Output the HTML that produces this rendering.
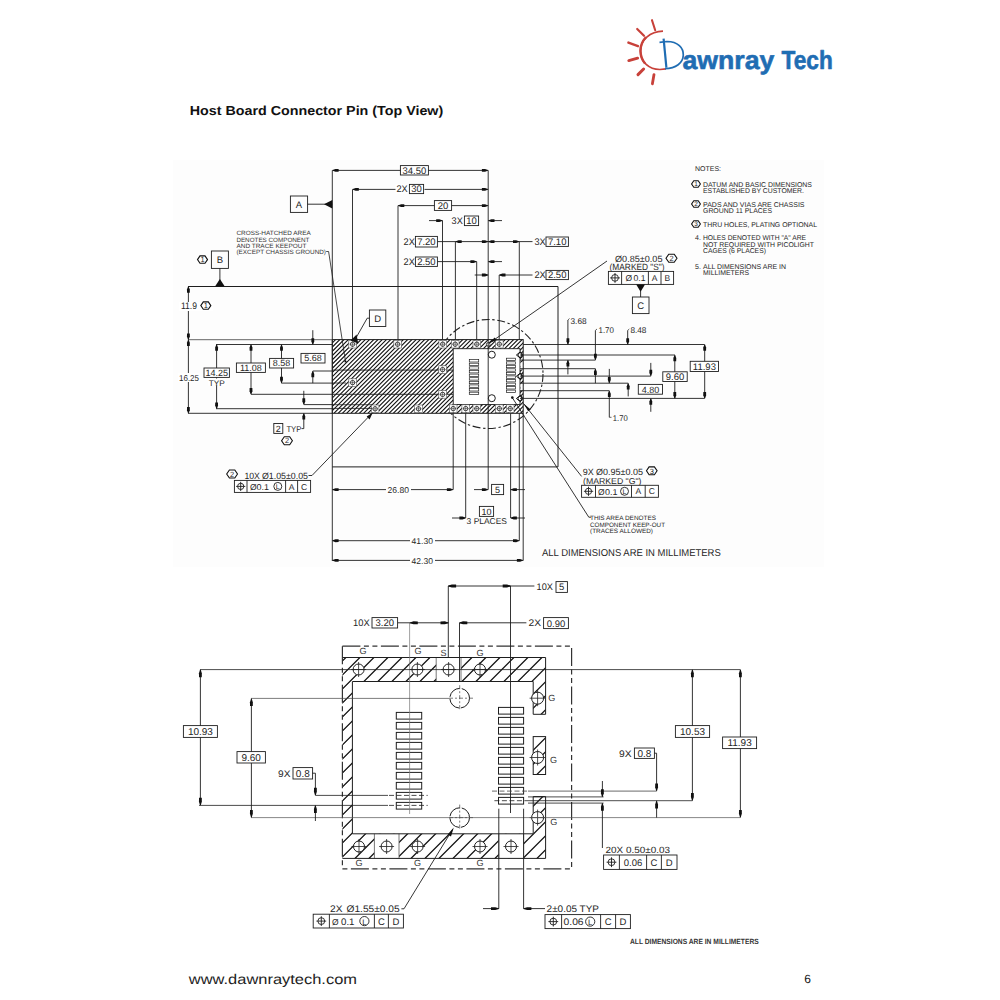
<!DOCTYPE html>
<html><head><meta charset="utf-8"><title>Host Board Connector Pin</title>
<style>
html,body{margin:0;padding:0;background:#fff;}
body{width:1000px;height:1000px;overflow:hidden;position:relative;font-family:"Liberation Sans", sans-serif;}
svg{position:absolute;left:0;top:0;}
text{font-family:"Liberation Sans", sans-serif;}
</style></head><body>
<svg width="1000" height="1000" viewBox="0 0 1000 1000" text-rendering="geometricPrecision">
<rect width="1000" height="1000" fill="#fff"/>
<rect x="173" y="160" width="651" height="407" fill="#fdfdfd"/>

<text x="189.8" y="115.2" font-size="13" text-anchor="start" fill="#111" font-weight="bold" textLength="253.4" lengthAdjust="spacingAndGlyphs" >Host Board Connector Pin (Top View)</text>
<text x="188.8" y="983.7" font-size="14" text-anchor="start" fill="#222" font-weight="normal" textLength="168.2" lengthAdjust="spacingAndGlyphs" >www.dawnraytech.com</text>
<text x="807.5" y="982.5" font-size="12" text-anchor="middle" fill="#111" font-weight="normal" >6</text>
<path d="M 663 31.2 C 650 31.5 640.3 40 640.4 51 C 640.6 62 649 69.6 660 69.5 L 666 68.9" fill="none" stroke="#c8413a" stroke-width="1.7"/>
<path d="M 646 37 C 642 41.5 640.4 46 640.5 51 C 640.6 56 642 60 645 63.5" fill="none" stroke="#c8413a" stroke-width="2.4"/>
<line x1="652" y1="20.2" x2="655.2" y2="30.2" stroke="#c8413a" stroke-width="2.1" stroke-linecap="round"/>
<line x1="637.2" y1="29" x2="644" y2="35.8" stroke="#c8413a" stroke-width="2.2" stroke-linecap="round"/>
<line x1="628.4" y1="42.6" x2="638" y2="46.2" stroke="#c8413a" stroke-width="2.4" stroke-linecap="round"/>
<line x1="628.8" y1="60.6" x2="637.6" y2="58.2" stroke="#c8413a" stroke-width="2.9" stroke-linecap="round"/>
<line x1="638" y1="74.6" x2="643.6" y2="69" stroke="#c8413a" stroke-width="3.0" stroke-linecap="round"/>
<line x1="652.4" y1="83.8" x2="654" y2="74.6" stroke="#c8413a" stroke-width="2.8" stroke-linecap="round"/>
<path d="M 663.6 38.6 L 666.4 67.6" stroke="#1f6db3" stroke-width="2.2" fill="none"/>
<path d="M 659.5 42.3 L 667 41.5 C 678 41.5 683.5 48 683.3 55 C 683 63 676 68.5 665 68.6" stroke="#1f6db3" stroke-width="1.7" fill="none"/>
<text x="682.4" y="68.9" font-size="26" font-weight="bold" fill="#1f6db3" stroke="#1f6db3" stroke-width="0.6" stroke-linejoin="round" textLength="92" lengthAdjust="spacingAndGlyphs">awnray</text>
<text x="781.6" y="68.9" font-size="26" font-weight="bold" fill="#1f6db3" stroke="#1f6db3" stroke-width="0.6" stroke-linejoin="round" textLength="51.2" lengthAdjust="spacingAndGlyphs">Tech</text>
<circle cx="488.5" cy="374.0" r="54.5" fill="none" stroke="#222" stroke-width="1.1" stroke-dasharray="8 2.6 2.4 2.6"/>
<clipPath id="cp1"><rect x="332.3" y="339.6" width="190.9" height="73.7"/></clipPath>
<rect x="332.3" y="339.6" width="190.9" height="73.7" fill="#fff"/>
<path clip-path="url(#cp1)" d="M251.38 415.30L329.08 337.60M255.62 415.30L333.32 337.60M259.86 415.30L337.56 337.60M264.10 415.30L341.80 337.60M268.34 415.30L346.04 337.60M272.58 415.30L350.28 337.60M276.82 415.30L354.52 337.60M281.06 415.30L358.76 337.60M285.30 415.30L363.00 337.60M289.54 415.30L367.24 337.60M293.78 415.30L371.48 337.60M298.02 415.30L375.72 337.60M302.26 415.30L379.96 337.60M306.50 415.30L384.20 337.60M310.74 415.30L388.44 337.60M314.98 415.30L392.68 337.60M319.22 415.30L396.92 337.60M323.46 415.30L401.16 337.60M327.70 415.30L405.40 337.60M331.94 415.30L409.64 337.60M336.18 415.30L413.88 337.60M340.42 415.30L418.12 337.60M344.66 415.30L422.36 337.60M348.90 415.30L426.60 337.60M353.14 415.30L430.84 337.60M357.38 415.30L435.08 337.60M361.62 415.30L439.32 337.60M365.86 415.30L443.56 337.60M370.10 415.30L447.80 337.60M374.34 415.30L452.04 337.60M378.58 415.30L456.28 337.60M382.82 415.30L460.52 337.60M387.06 415.30L464.76 337.60M391.30 415.30L469.00 337.60M395.54 415.30L473.24 337.60M399.78 415.30L477.48 337.60M404.02 415.30L481.72 337.60M408.26 415.30L485.96 337.60M412.50 415.30L490.20 337.60M416.74 415.30L494.44 337.60M420.98 415.30L498.68 337.60M425.22 415.30L502.92 337.60M429.46 415.30L507.16 337.60M433.70 415.30L511.40 337.60M437.94 415.30L515.64 337.60M442.18 415.30L519.88 337.60M446.42 415.30L524.12 337.60M450.66 415.30L528.36 337.60M454.90 415.30L532.60 337.60M459.14 415.30L536.84 337.60M463.38 415.30L541.08 337.60M467.62 415.30L545.32 337.60M471.86 415.30L549.56 337.60M476.10 415.30L553.80 337.60M480.34 415.30L558.04 337.60M484.58 415.30L562.28 337.60M488.82 415.30L566.52 337.60M493.06 415.30L570.76 337.60M497.30 415.30L575.00 337.60M501.54 415.30L579.24 337.60M505.78 415.30L583.48 337.60M510.02 415.30L587.72 337.60M514.26 415.30L591.96 337.60M518.50 415.30L596.20 337.60M522.74 415.30L600.44 337.60" stroke="#111" stroke-width="1.1" fill="none"/>
<rect x="453.2" y="348.7" width="66.8" height="55.8" fill="#fff" stroke="#1e1e1e" stroke-width="0.9" />
<rect x="520.5" y="362.5" width="2.7" height="7.0" fill="#fff"/>
<rect x="520.5" y="383.5" width="2.7" height="7.0" fill="#fff"/>
<rect x="332.3" y="339.6" width="190.9" height="73.7" fill="none" stroke="#1e1e1e" stroke-width="1.0" />
<line x1="332.3" y1="370.1" x2="453.2" y2="370.1" stroke="#1e1e1e" stroke-width="0.9" />
<line x1="332.3" y1="394.3" x2="453.2" y2="394.3" stroke="#1e1e1e" stroke-width="0.9" />
<rect x="348.8" y="340.4" width="7.6" height="7.6" fill="#fff" stroke="#555" stroke-width="0.6" />
<circle cx="352.6" cy="344.2" r="2.2" fill="none" stroke="#1e1e1e" stroke-width="0.8" />
<line x1="349.6" y1="344.2" x2="355.6" y2="344.2" stroke="#1e1e1e" stroke-width="0.5" />
<line x1="352.6" y1="341.2" x2="352.6" y2="347.2" stroke="#1e1e1e" stroke-width="0.5" />
<rect x="393.8" y="340.4" width="7.6" height="7.6" fill="#fff" stroke="#555" stroke-width="0.6" />
<circle cx="397.6" cy="344.2" r="2.2" fill="none" stroke="#1e1e1e" stroke-width="0.8" />
<line x1="394.6" y1="344.2" x2="400.6" y2="344.2" stroke="#1e1e1e" stroke-width="0.5" />
<line x1="397.6" y1="341.2" x2="397.6" y2="347.2" stroke="#1e1e1e" stroke-width="0.5" />
<rect x="438.9" y="340.4" width="7.6" height="7.6" fill="#fff" stroke="#555" stroke-width="0.6" />
<circle cx="442.7" cy="344.2" r="2.2" fill="none" stroke="#1e1e1e" stroke-width="0.8" />
<line x1="439.7" y1="344.2" x2="445.7" y2="344.2" stroke="#1e1e1e" stroke-width="0.5" />
<line x1="442.7" y1="341.2" x2="442.7" y2="347.2" stroke="#1e1e1e" stroke-width="0.5" />
<rect x="451.4" y="340.4" width="7.6" height="7.6" fill="#fff" stroke="#555" stroke-width="0.6" />
<circle cx="455.2" cy="344.2" r="2.2" fill="none" stroke="#1e1e1e" stroke-width="0.8" />
<line x1="452.2" y1="344.2" x2="458.2" y2="344.2" stroke="#1e1e1e" stroke-width="0.5" />
<line x1="455.2" y1="341.2" x2="455.2" y2="347.2" stroke="#1e1e1e" stroke-width="0.5" />
<rect x="473.0" y="340.4" width="7.6" height="7.6" fill="#fff" stroke="#555" stroke-width="0.6" />
<circle cx="476.8" cy="344.2" r="2.2" fill="none" stroke="#1e1e1e" stroke-width="0.8" />
<line x1="473.8" y1="344.2" x2="479.8" y2="344.2" stroke="#1e1e1e" stroke-width="0.5" />
<line x1="476.8" y1="341.2" x2="476.8" y2="347.2" stroke="#1e1e1e" stroke-width="0.5" />
<rect x="495.5" y="340.4" width="7.6" height="7.6" fill="#fff" stroke="#555" stroke-width="0.6" />
<circle cx="499.3" cy="344.2" r="2.2" fill="none" stroke="#1e1e1e" stroke-width="0.8" />
<line x1="496.3" y1="344.2" x2="502.3" y2="344.2" stroke="#1e1e1e" stroke-width="0.5" />
<line x1="499.3" y1="341.2" x2="499.3" y2="347.2" stroke="#1e1e1e" stroke-width="0.5" />
<rect x="438.8" y="365.8" width="7.6" height="7.6" fill="#fff" stroke="#555" stroke-width="0.6" />
<circle cx="442.6" cy="369.6" r="2.2" fill="none" stroke="#1e1e1e" stroke-width="0.8" />
<line x1="439.6" y1="369.6" x2="445.6" y2="369.6" stroke="#1e1e1e" stroke-width="0.5" />
<line x1="442.6" y1="366.6" x2="442.6" y2="372.6" stroke="#1e1e1e" stroke-width="0.5" />
<rect x="438.8" y="390.6" width="7.6" height="7.6" fill="#fff" stroke="#555" stroke-width="0.6" />
<circle cx="442.6" cy="394.4" r="2.2" fill="none" stroke="#1e1e1e" stroke-width="0.8" />
<line x1="439.6" y1="394.4" x2="445.6" y2="394.4" stroke="#1e1e1e" stroke-width="0.5" />
<line x1="442.6" y1="391.4" x2="442.6" y2="397.4" stroke="#1e1e1e" stroke-width="0.5" />
<rect x="348.8" y="378.8" width="7.6" height="7.6" fill="#fff" stroke="#555" stroke-width="0.6" />
<circle cx="352.6" cy="382.6" r="2.2" fill="none" stroke="#1e1e1e" stroke-width="0.8" />
<line x1="349.6" y1="382.6" x2="355.6" y2="382.6" stroke="#1e1e1e" stroke-width="0.5" />
<line x1="352.6" y1="379.6" x2="352.6" y2="385.6" stroke="#1e1e1e" stroke-width="0.5" />
<rect x="371.3" y="405.0" width="7.6" height="7.6" fill="#fff" stroke="#555" stroke-width="0.6" />
<circle cx="375.1" cy="408.8" r="2.2" fill="none" stroke="#1e1e1e" stroke-width="0.8" />
<line x1="372.1" y1="408.8" x2="378.1" y2="408.8" stroke="#1e1e1e" stroke-width="0.5" />
<line x1="375.1" y1="405.8" x2="375.1" y2="411.8" stroke="#1e1e1e" stroke-width="0.5" />
<rect x="414.7" y="405.0" width="7.6" height="7.6" fill="#fff" stroke="#555" stroke-width="0.6" />
<circle cx="418.5" cy="408.8" r="2.2" fill="none" stroke="#1e1e1e" stroke-width="0.8" />
<line x1="415.5" y1="408.8" x2="421.5" y2="408.8" stroke="#1e1e1e" stroke-width="0.5" />
<line x1="418.5" y1="405.8" x2="418.5" y2="411.8" stroke="#1e1e1e" stroke-width="0.5" />
<rect x="449.4" y="404.8" width="7.6" height="7.6" fill="#fff" stroke="#555" stroke-width="0.6" />
<circle cx="453.2" cy="408.6" r="2.2" fill="none" stroke="#1e1e1e" stroke-width="0.8" />
<line x1="450.2" y1="408.6" x2="456.2" y2="408.6" stroke="#1e1e1e" stroke-width="0.5" />
<line x1="453.2" y1="405.6" x2="453.2" y2="411.6" stroke="#1e1e1e" stroke-width="0.5" />
<rect x="461.9" y="404.8" width="7.6" height="7.6" fill="#fff" stroke="#555" stroke-width="0.6" />
<circle cx="465.7" cy="408.6" r="2.2" fill="none" stroke="#1e1e1e" stroke-width="0.8" />
<line x1="462.7" y1="408.6" x2="468.7" y2="408.6" stroke="#1e1e1e" stroke-width="0.5" />
<line x1="465.7" y1="405.6" x2="465.7" y2="411.6" stroke="#1e1e1e" stroke-width="0.5" />
<rect x="473.0" y="404.8" width="7.6" height="7.6" fill="#fff" stroke="#555" stroke-width="0.6" />
<circle cx="476.8" cy="408.6" r="2.2" fill="none" stroke="#1e1e1e" stroke-width="0.8" />
<line x1="473.8" y1="408.6" x2="479.8" y2="408.6" stroke="#1e1e1e" stroke-width="0.5" />
<line x1="476.8" y1="405.6" x2="476.8" y2="411.6" stroke="#1e1e1e" stroke-width="0.5" />
<rect x="495.5" y="404.8" width="7.6" height="7.6" fill="#fff" stroke="#555" stroke-width="0.6" />
<circle cx="499.3" cy="408.6" r="2.2" fill="none" stroke="#1e1e1e" stroke-width="0.8" />
<line x1="496.3" y1="408.6" x2="502.3" y2="408.6" stroke="#1e1e1e" stroke-width="0.5" />
<line x1="499.3" y1="405.6" x2="499.3" y2="411.6" stroke="#1e1e1e" stroke-width="0.5" />
<rect x="506.4" y="404.8" width="7.6" height="7.6" fill="#fff" stroke="#555" stroke-width="0.6" />
<circle cx="510.2" cy="408.6" r="2.2" fill="none" stroke="#1e1e1e" stroke-width="0.8" />
<line x1="507.2" y1="408.6" x2="513.2" y2="408.6" stroke="#1e1e1e" stroke-width="0.5" />
<line x1="510.2" y1="405.6" x2="510.2" y2="411.6" stroke="#1e1e1e" stroke-width="0.5" />
<circle cx="488.2" cy="344.4" r="1.8" fill="#fff" stroke="#1e1e1e" stroke-width="0.8" />
<circle cx="520.4" cy="355.0" r="2.3" fill="#fff" stroke="#1e1e1e" stroke-width="0.9" />
<polygon points="516.4,355.0 520.4,351.8 521.9,355.0 520.4,358.2" fill="none" stroke="#111" stroke-width="1.0"/>
<circle cx="520.4" cy="376.2" r="2.3" fill="#fff" stroke="#1e1e1e" stroke-width="0.9" />
<polygon points="516.4,376.2 520.4,373.0 521.9,376.2 520.4,379.4" fill="none" stroke="#111" stroke-width="1.0"/>
<circle cx="520.4" cy="398.5" r="2.3" fill="#fff" stroke="#1e1e1e" stroke-width="0.9" />
<polygon points="516.4,398.5 520.4,395.3 521.9,398.5 520.4,401.7" fill="none" stroke="#111" stroke-width="1.0"/>
<circle cx="491.8" cy="354.7" r="3.5" fill="#fff" stroke="#1e1e1e" stroke-width="1.0" />
<circle cx="491.8" cy="398.2" r="3.5" fill="#fff" stroke="#1e1e1e" stroke-width="1.0" />
<rect x="469.3" y="359.6" width="9.4" height="2.4" fill="none" stroke="#1e1e1e" stroke-width="0.7" />
<rect x="469.3" y="363.2" width="9.4" height="2.4" fill="none" stroke="#1e1e1e" stroke-width="0.7" />
<rect x="469.3" y="366.8" width="9.4" height="2.4" fill="none" stroke="#1e1e1e" stroke-width="0.7" />
<rect x="469.3" y="370.5" width="9.4" height="2.4" fill="none" stroke="#1e1e1e" stroke-width="0.7" />
<rect x="469.3" y="374.1" width="9.4" height="2.4" fill="none" stroke="#1e1e1e" stroke-width="0.7" />
<rect x="469.3" y="377.7" width="9.4" height="2.4" fill="none" stroke="#1e1e1e" stroke-width="0.7" />
<rect x="469.3" y="381.3" width="9.4" height="2.4" fill="none" stroke="#1e1e1e" stroke-width="0.7" />
<rect x="469.3" y="384.9" width="9.4" height="2.4" fill="none" stroke="#1e1e1e" stroke-width="0.7" />
<rect x="469.3" y="388.6" width="9.4" height="2.4" fill="none" stroke="#1e1e1e" stroke-width="0.7" />
<rect x="469.3" y="392.2" width="9.4" height="2.4" fill="none" stroke="#1e1e1e" stroke-width="0.7" />
<rect x="506.5" y="358.2" width="9.0" height="2.4" fill="none" stroke="#1e1e1e" stroke-width="0.7" />
<rect x="506.5" y="361.8" width="9.0" height="2.4" fill="none" stroke="#1e1e1e" stroke-width="0.7" />
<rect x="506.5" y="365.3" width="9.0" height="2.4" fill="none" stroke="#1e1e1e" stroke-width="0.7" />
<rect x="506.5" y="368.8" width="9.0" height="2.4" fill="none" stroke="#1e1e1e" stroke-width="0.7" />
<rect x="506.5" y="372.4" width="9.0" height="2.4" fill="none" stroke="#1e1e1e" stroke-width="0.7" />
<rect x="506.5" y="375.9" width="9.0" height="2.4" fill="none" stroke="#1e1e1e" stroke-width="0.7" />
<rect x="506.5" y="379.5" width="9.0" height="2.4" fill="none" stroke="#1e1e1e" stroke-width="0.7" />
<rect x="506.5" y="383.1" width="9.0" height="2.4" fill="none" stroke="#1e1e1e" stroke-width="0.7" />
<rect x="506.5" y="386.6" width="9.0" height="2.4" fill="none" stroke="#1e1e1e" stroke-width="0.7" />
<rect x="506.5" y="390.1" width="9.0" height="2.4" fill="none" stroke="#1e1e1e" stroke-width="0.7" />
<line x1="332.3" y1="404.7" x2="372.0" y2="404.7" stroke="#1e1e1e" stroke-width="0.8" />
<line x1="332.3" y1="408.4" x2="372.0" y2="408.4" stroke="#1e1e1e" stroke-width="0.8" />
<line x1="332.3" y1="383.0" x2="346.0" y2="383.0" stroke="#1e1e1e" stroke-width="0.8" />
<line x1="188.0" y1="286.5" x2="558.0" y2="286.5" stroke="#1e1e1e" stroke-width="1.1" />
<line x1="558.0" y1="286.5" x2="558.0" y2="466.9" stroke="#1e1e1e" stroke-width="1.0" />
<line x1="332.3" y1="466.9" x2="558.0" y2="466.9" stroke="#1e1e1e" stroke-width="1.0" />
<line x1="332.3" y1="170.4" x2="332.3" y2="561.0" stroke="#1e1e1e" stroke-width="0.9" />
<line x1="188.0" y1="339.7" x2="332.3" y2="339.7" stroke="#555" stroke-width="0.9" />
<line x1="216.0" y1="344.5" x2="332.3" y2="344.5" stroke="#1e1e1e" stroke-width="0.9" />
<line x1="281.4" y1="383.1" x2="332.3" y2="383.1" stroke="#1e1e1e" stroke-width="0.9" />
<line x1="251.0" y1="394.3" x2="332.3" y2="394.3" stroke="#1e1e1e" stroke-width="0.9" />
<line x1="303.8" y1="404.6" x2="332.3" y2="404.6" stroke="#1e1e1e" stroke-width="0.9" />
<line x1="216.0" y1="408.7" x2="332.3" y2="408.7" stroke="#1e1e1e" stroke-width="0.9" />
<line x1="188.0" y1="413.3" x2="332.3" y2="413.3" stroke="#1e1e1e" stroke-width="0.9" />
<line x1="312.8" y1="371.0" x2="332.3" y2="371.0" stroke="#1e1e1e" stroke-width="0.9" />
<line x1="352.5" y1="189.4" x2="352.5" y2="339.6" stroke="#1e1e1e" stroke-width="0.9" />
<line x1="398.0" y1="205.6" x2="398.0" y2="339.6" stroke="#1e1e1e" stroke-width="0.9" />
<line x1="442.5" y1="220.4" x2="442.5" y2="339.6" stroke="#1e1e1e" stroke-width="0.9" />
<line x1="455.4" y1="241.6" x2="455.4" y2="339.6" stroke="#1e1e1e" stroke-width="0.9" />
<line x1="476.7" y1="261.6" x2="476.7" y2="339.6" stroke="#1e1e1e" stroke-width="0.9" />
<line x1="488.2" y1="170.4" x2="488.2" y2="489.6" stroke="#1e1e1e" stroke-width="0.9" />
<line x1="499.2" y1="275.0" x2="499.2" y2="339.6" stroke="#1e1e1e" stroke-width="0.9" />
<line x1="519.3" y1="241.6" x2="519.3" y2="339.6" stroke="#1e1e1e" stroke-width="0.9" />
<line x1="332.3" y1="170.4" x2="488.2" y2="170.4" stroke="#1e1e1e" stroke-width="0.9" />
<polygon points="332.80,170.00 335.41,168.95 338.60,169.02 338.60,171.78 335.41,171.85 332.80,170.80" fill="#111"/>
<polygon points="487.70,170.00 485.09,168.95 481.90,169.02 481.90,171.78 485.09,171.85 487.70,170.80" fill="#111"/>
<rect x="400.4" y="165.6" width="28.0" height="9.4" fill="#fff" stroke="#1e1e1e" stroke-width="0.9" />
<text x="414.4" y="173.7" font-size="9.5" text-anchor="middle" fill="#262626" font-weight="normal" >34.50</text>
<line x1="352.5" y1="189.4" x2="488.2" y2="189.4" stroke="#1e1e1e" stroke-width="0.9" />
<polygon points="353.00,189.00 355.61,187.95 358.80,188.02 358.80,190.78 355.61,190.85 353.00,189.80" fill="#111"/>
<polygon points="487.70,189.00 485.09,187.95 481.90,188.02 481.90,190.78 485.09,190.85 487.70,189.80" fill="#111"/>
<rect x="395.5" y="184" width="29" height="10" fill="#fff"/>
<text x="396.4" y="191.8" font-size="9.5" text-anchor="start" fill="#262626" font-weight="normal" textLength="11.2" lengthAdjust="spacingAndGlyphs" >2X</text>
<rect x="409.4" y="184.4" width="14.2" height="9.2" fill="#fff" stroke="#1e1e1e" stroke-width="0.9" />
<text x="416.5" y="192.4" font-size="9.5" text-anchor="middle" fill="#262626" font-weight="normal" >30</text>
<line x1="398.0" y1="205.6" x2="488.2" y2="205.6" stroke="#1e1e1e" stroke-width="0.9" />
<polygon points="398.50,205.20 401.11,204.15 404.30,204.22 404.30,206.98 401.11,207.05 398.50,206.00" fill="#111"/>
<polygon points="487.70,205.20 485.09,204.15 481.90,204.22 481.90,206.98 485.09,207.05 487.70,206.00" fill="#111"/>
<rect x="434.4" y="200.6" width="17.2" height="9.8" fill="#fff" stroke="#1e1e1e" stroke-width="0.9" />
<text x="443.0" y="208.9" font-size="9.5" text-anchor="middle" fill="#262626" font-weight="normal" >20</text>
<line x1="429.0" y1="220.6" x2="442.5" y2="220.6" stroke="#1e1e1e" stroke-width="0.9" />
<polygon points="442.00,220.20 439.39,219.15 436.20,219.22 436.20,221.98 439.39,222.05 442.00,221.00" fill="#111"/>
<line x1="488.2" y1="220.6" x2="502.0" y2="220.6" stroke="#1e1e1e" stroke-width="0.9" />
<polygon points="488.70,220.20 491.31,219.15 494.50,219.22 494.50,221.98 491.31,222.05 488.70,221.00" fill="#111"/>
<text x="451.6" y="223.9" font-size="9.5" text-anchor="start" fill="#262626" font-weight="normal" textLength="11.2" lengthAdjust="spacingAndGlyphs" >3X</text>
<rect x="464.4" y="216.0" width="14.2" height="9.6" fill="#fff" stroke="#1e1e1e" stroke-width="0.9" />
<text x="471.5" y="224.2" font-size="9.5" text-anchor="middle" fill="#262626" font-weight="normal" >10</text>
<line x1="437.4" y1="241.6" x2="532.5" y2="241.6" stroke="#1e1e1e" stroke-width="0.9" />
<polygon points="455.90,241.20 458.51,240.15 461.70,240.22 461.70,242.98 458.51,243.05 455.90,242.00" fill="#111"/>
<polygon points="487.70,241.20 485.09,240.15 481.90,240.22 481.90,242.98 485.09,243.05 487.70,242.00" fill="#111"/>
<polygon points="488.70,241.20 491.31,240.15 494.50,240.22 494.50,242.98 491.31,243.05 488.70,242.00" fill="#111"/>
<polygon points="518.80,241.20 516.19,240.15 513.00,240.22 513.00,242.98 516.19,243.05 518.80,242.00" fill="#111"/>
<text x="403.6" y="245.0" font-size="9.5" text-anchor="start" fill="#262626" font-weight="normal" textLength="11.2" lengthAdjust="spacingAndGlyphs" >2X</text>
<rect x="415.4" y="236.4" width="22.0" height="10.6" fill="#fff" stroke="#1e1e1e" stroke-width="0.9" />
<text x="426.4" y="245.1" font-size="9.5" text-anchor="middle" fill="#262626" font-weight="normal" >7.20</text>
<text x="534.4" y="245.0" font-size="9.5" text-anchor="start" fill="#262626" font-weight="normal" textLength="11.2" lengthAdjust="spacingAndGlyphs" >3X</text>
<rect x="546.0" y="237.0" width="22.4" height="9.4" fill="#fff" stroke="#1e1e1e" stroke-width="0.9" />
<text x="557.2" y="245.1" font-size="9.5" text-anchor="middle" fill="#262626" font-weight="normal" >7.10</text>
<line x1="437.4" y1="261.6" x2="476.7" y2="261.6" stroke="#1e1e1e" stroke-width="0.9" />
<polygon points="476.20,261.20 473.59,260.15 470.40,260.22 470.40,262.98 473.59,263.05 476.20,262.00" fill="#111"/>
<line x1="488.2" y1="261.6" x2="502.0" y2="261.6" stroke="#1e1e1e" stroke-width="0.9" />
<polygon points="488.70,261.20 491.31,260.15 494.50,260.22 494.50,262.98 491.31,263.05 488.70,262.00" fill="#111"/>
<text x="403.6" y="265.0" font-size="9.5" text-anchor="start" fill="#262626" font-weight="normal" textLength="11.2" lengthAdjust="spacingAndGlyphs" >2X</text>
<rect x="415.4" y="257.0" width="22.0" height="9.4" fill="#fff" stroke="#1e1e1e" stroke-width="0.9" />
<text x="426.4" y="265.1" font-size="9.5" text-anchor="middle" fill="#262626" font-weight="normal" >2.50</text>
<line x1="474.7" y1="275.0" x2="488.2" y2="275.0" stroke="#1e1e1e" stroke-width="0.9" />
<polygon points="487.70,274.60 485.09,273.55 481.90,273.62 481.90,276.38 485.09,276.45 487.70,275.40" fill="#111"/>
<line x1="499.2" y1="275.0" x2="532.5" y2="275.0" stroke="#1e1e1e" stroke-width="0.9" />
<polygon points="499.70,274.60 502.31,273.55 505.50,273.62 505.50,276.38 502.31,276.45 499.70,275.40" fill="#111"/>
<text x="534.4" y="278.4" font-size="9.5" text-anchor="start" fill="#262626" font-weight="normal" textLength="11.2" lengthAdjust="spacingAndGlyphs" >2X</text>
<rect x="546.0" y="270.4" width="22.4" height="9.2" fill="#fff" stroke="#1e1e1e" stroke-width="0.9" />
<text x="557.2" y="278.4" font-size="9.5" text-anchor="middle" fill="#262626" font-weight="normal" >2.50</text>
<rect x="290.4" y="196.0" width="17.2" height="16.4" fill="none" stroke="#1e1e1e" stroke-width="0.9" />
<text x="299.0" y="207.8" font-size="9.5" text-anchor="middle" fill="#262626" font-weight="normal" >A</text>
<line x1="307.6" y1="204.2" x2="332.3" y2="204.2" stroke="#1e1e1e" stroke-width="0.9" />
<polygon points="332.3,200.0 332.3,208.4 324.0,204.2" fill="#111"/>
<rect x="211.4" y="251.0" width="17.0" height="17.4" fill="none" stroke="#1e1e1e" stroke-width="0.9" />
<text x="219.9" y="263.2" font-size="9.5" text-anchor="middle" fill="#262626" font-weight="normal" >B</text>
<line x1="219.9" y1="268.4" x2="219.9" y2="282.0" stroke="#1e1e1e" stroke-width="0.9" />
<polygon points="215.0,286.5 224.8,286.5 219.9,279.0" fill="#111"/>
<polygon points="207.5,259.6 205.0,263.3 200.0,263.3 197.5,259.6 200.0,255.9 205.0,255.9" fill="#fff" stroke="#111" stroke-width="1.1"/>
<text x="202.5" y="262.3" font-size="7.5" text-anchor="middle" fill="#262626" font-weight="normal" >1</text>
<line x1="188.4" y1="286.5" x2="188.4" y2="413.3" stroke="#1e1e1e" stroke-width="0.9" />
<polygon points="188.00,287.00 186.95,289.61 187.02,292.80 189.78,292.80 189.85,289.61 188.80,287.00" fill="#111"/>
<polygon points="188.00,339.20 186.95,336.59 187.02,333.40 189.78,333.40 189.85,336.59 188.80,339.20" fill="#111"/>
<polygon points="188.00,340.20 186.95,342.81 187.02,346.00 189.78,346.00 189.85,342.81 188.80,340.20" fill="#111"/>
<polygon points="188.00,412.80 186.95,410.19 187.02,407.00 189.78,407.00 189.85,410.19 188.80,412.80" fill="#111"/>
<rect x="179" y="302" width="34" height="9" fill="#fff"/>
<text x="181.0" y="309.4" font-size="9.6" text-anchor="start" fill="#262626" font-weight="normal" textLength="16.0" lengthAdjust="spacingAndGlyphs" >11.9</text>
<polygon points="210.8,305.6 208.3,309.3 203.3,309.3 200.8,305.6 203.3,301.9 208.3,301.9" fill="#fff" stroke="#111" stroke-width="1.1"/>
<text x="205.8" y="308.3" font-size="7.5" text-anchor="middle" fill="#262626" font-weight="normal" >1</text>
<rect x="178" y="373" width="22" height="9" fill="#fff"/>
<text x="179.0" y="380.6" font-size="8.5" text-anchor="start" fill="#262626" font-weight="normal" textLength="20.0" lengthAdjust="spacingAndGlyphs" >16.25</text>
<line x1="216.6" y1="344.5" x2="216.6" y2="408.7" stroke="#1e1e1e" stroke-width="0.9" />
<polygon points="216.20,345.00 215.15,347.61 215.22,350.80 217.98,350.80 218.05,347.61 217.00,345.00" fill="#111"/>
<polygon points="216.20,408.20 215.15,405.59 215.22,402.40 217.98,402.40 218.05,405.59 217.00,408.20" fill="#111"/>
<rect x="204.0" y="368.0" width="25.4" height="9.4" fill="#fff" stroke="#1e1e1e" stroke-width="0.9" />
<text x="216.7" y="375.9" font-size="9" text-anchor="middle" fill="#262626" font-weight="normal" >14.25</text>
<rect x="208" y="378.5" width="18" height="7" fill="#fff"/>
<text x="216.8" y="385.6" font-size="8" text-anchor="middle" fill="#262626" font-weight="normal" textLength="16.0" lengthAdjust="spacingAndGlyphs" >TYP</text>
<line x1="251.0" y1="344.5" x2="251.0" y2="394.3" stroke="#1e1e1e" stroke-width="0.9" />
<polygon points="250.60,345.00 249.55,347.61 249.62,350.80 252.38,350.80 252.45,347.61 251.40,345.00" fill="#111"/>
<polygon points="250.60,393.80 249.55,391.19 249.62,388.00 252.38,388.00 252.45,391.19 251.40,393.80" fill="#111"/>
<rect x="236.4" y="363.0" width="29.0" height="9.4" fill="#fff" stroke="#1e1e1e" stroke-width="0.9" />
<text x="250.9" y="370.9" font-size="9" text-anchor="middle" fill="#262626" font-weight="normal" >11.08</text>
<line x1="281.5" y1="344.5" x2="281.5" y2="383.1" stroke="#1e1e1e" stroke-width="0.9" />
<polygon points="281.10,345.00 280.05,347.61 280.12,350.80 282.88,350.80 282.95,347.61 281.90,345.00" fill="#111"/>
<polygon points="281.10,382.60 280.05,379.99 280.12,376.80 282.88,376.80 282.95,379.99 281.90,382.60" fill="#111"/>
<rect x="269.6" y="358.4" width="24.0" height="9.6" fill="#fff" stroke="#1e1e1e" stroke-width="0.9" />
<text x="281.6" y="366.4" font-size="9" text-anchor="middle" fill="#262626" font-weight="normal" >8.58</text>
<rect x="301.0" y="353.4" width="24.0" height="9.6" fill="#fff" stroke="#1e1e1e" stroke-width="0.9" />
<text x="313.0" y="361.4" font-size="9" text-anchor="middle" fill="#262626" font-weight="normal" >5.68</text>
<line x1="312.8" y1="330.2" x2="312.8" y2="344.5" stroke="#1e1e1e" stroke-width="0.9" />
<polygon points="312.40,344.00 311.35,341.39 311.42,338.20 314.18,338.20 314.25,341.39 313.20,344.00" fill="#111"/>
<line x1="312.8" y1="371.0" x2="312.8" y2="383.1" stroke="#1e1e1e" stroke-width="0.9" />
<polygon points="312.40,371.50 311.35,374.11 311.42,377.30 314.18,377.30 314.25,374.11 313.20,371.50" fill="#111"/>
<line x1="303.8" y1="390.8" x2="303.8" y2="404.6" stroke="#1e1e1e" stroke-width="0.9" />
<polygon points="303.40,404.10 302.35,401.49 302.42,398.30 305.18,398.30 305.25,401.49 304.20,404.10" fill="#111"/>
<line x1="303.8" y1="413.3" x2="303.8" y2="428.6" stroke="#1e1e1e" stroke-width="0.9" />
<polygon points="303.40,413.80 302.35,416.41 302.42,419.60 305.18,419.60 305.25,416.41 304.20,413.80" fill="#111"/>
<line x1="301.5" y1="428.6" x2="303.8" y2="428.6" stroke="#1e1e1e" stroke-width="0.9" />
<rect x="273.8" y="423.5" width="9.0" height="9.9" fill="none" stroke="#1e1e1e" stroke-width="0.9" />
<text x="278.3" y="431.7" font-size="9" text-anchor="middle" fill="#262626" font-weight="normal" >2</text>
<text x="286.4" y="432.0" font-size="8.5" text-anchor="start" fill="#262626" font-weight="normal" textLength="15.0" lengthAdjust="spacingAndGlyphs" >TYP</text>
<polygon points="292.4,440.7 289.7,444.7 284.3,444.7 281.6,440.7 284.3,436.7 289.7,436.7" fill="#fff" stroke="#111" stroke-width="1.1"/>
<text x="287.0" y="443.4" font-size="7.5" text-anchor="middle" fill="#262626" font-weight="normal" >2</text>
<text x="236.4" y="235.2" font-size="6.2" text-anchor="start" fill="#333" font-weight="normal" textLength="74.4" lengthAdjust="spacingAndGlyphs" >CROSS-HATCHED AREA</text>
<text x="236.4" y="241.5" font-size="6.2" text-anchor="start" fill="#333" font-weight="normal" textLength="73.0" lengthAdjust="spacingAndGlyphs" >DENOTES COMPONENT</text>
<text x="236.4" y="247.8" font-size="6.2" text-anchor="start" fill="#333" font-weight="normal" textLength="70.0" lengthAdjust="spacingAndGlyphs" >AND TRACE KEEPOUT</text>
<text x="236.4" y="254.1" font-size="6.2" text-anchor="start" fill="#333" font-weight="normal" textLength="89.6" lengthAdjust="spacingAndGlyphs" >(EXCEPT CHASSIS GROUND)</text>
<polyline points="326.2,251.5 328.6,251.5 345.5,361.5" fill="none" stroke="#1e1e1e" stroke-width="0.8" />
<circle cx="345.5" cy="361.5" r="1.1" fill="#111"/>
<rect x="369.4" y="310.0" width="16.4" height="16.5" fill="none" stroke="#1e1e1e" stroke-width="0.9" />
<text x="377.6" y="321.6" font-size="9.5" text-anchor="middle" fill="#262626" font-weight="normal" >D</text>
<polyline points="369.4,318.2 367.2,318.2 356.5,337.0" fill="none" stroke="#1e1e1e" stroke-width="0.9" />
<polygon points="350.6,340.4 356.6,334.6 358.2,343.4" fill="#111"/>
<polygon points="237.5,474.0 234.8,478.0 229.4,478.0 226.7,474.0 229.4,470.0 234.8,470.0" fill="#fff" stroke="#111" stroke-width="1.1"/>
<text x="232.1" y="476.7" font-size="7.5" text-anchor="middle" fill="#262626" font-weight="normal" >2</text>
<text x="244.4" y="479.1" font-size="9" text-anchor="start" fill="#262626" font-weight="normal" textLength="15.5" lengthAdjust="spacingAndGlyphs" >10X</text>
<text x="262.0" y="479.1" font-size="9" text-anchor="start" fill="#262626" font-weight="normal" textLength="46.0" lengthAdjust="spacingAndGlyphs" >&#216;1.05&#177;0.05</text>
<polyline points="308.5,475.5 312.0,475.5 371.5,413.8" fill="none" stroke="#1e1e1e" stroke-width="0.9" />
<polygon points="372.8,412.4 366.7,416.6 369.6,419.4" fill="#111"/>
<rect x="234.4" y="480.4" width="76.2" height="12.0" fill="#fff" stroke="#1e1e1e" stroke-width="0.9" />
<line x1="247.0" y1="480.4" x2="247.0" y2="492.4" stroke="#1e1e1e" stroke-width="0.9" />
<line x1="285.6" y1="480.4" x2="285.6" y2="492.4" stroke="#1e1e1e" stroke-width="0.9" />
<line x1="297.6" y1="480.4" x2="297.6" y2="492.4" stroke="#1e1e1e" stroke-width="0.9" />
<circle cx="240.7" cy="486.4" r="3.12" fill="none" stroke="#1e1e1e" stroke-width="0.9"/>
<line x1="236.1" y1="486.4" x2="245.3" y2="486.4" stroke="#1e1e1e" stroke-width="0.9" />
<line x1="240.7" y1="481.8" x2="240.7" y2="491.0" stroke="#1e1e1e" stroke-width="0.9" />
<text x="291.6" y="489.5" font-size="8.5" text-anchor="middle" fill="#262626">A</text>
<text x="304.1" y="489.5" font-size="8.5" text-anchor="middle" fill="#262626">C</text>
<text x="250.0" y="489.5" font-size="8.5" text-anchor="start" fill="#262626" font-weight="normal" >&#216;</text>
<text x="256.5" y="489.5" font-size="8.5" text-anchor="start" fill="#262626" font-weight="normal" textLength="12.5" lengthAdjust="spacingAndGlyphs" >0.1</text>
<circle cx="277.8" cy="486.4" r="4.0" fill="none" stroke="#1e1e1e" stroke-width="0.9" />
<text x="277.8" y="489.4" font-size="7" text-anchor="middle" fill="#262626" font-weight="normal" >L</text>
<line x1="332.3" y1="489.6" x2="453.2" y2="489.6" stroke="#1e1e1e" stroke-width="0.9" />
<polygon points="332.80,489.20 335.41,488.15 338.60,488.22 338.60,490.98 335.41,491.05 332.80,490.00" fill="#111"/>
<polygon points="452.70,489.20 450.09,488.15 446.90,488.22 446.90,490.98 450.09,491.05 452.70,490.00" fill="#111"/>
<rect x="386" y="485" width="25" height="9" fill="#fff"/>
<text x="387.6" y="492.8" font-size="8.5" text-anchor="start" fill="#262626" font-weight="normal" textLength="21.4" lengthAdjust="spacingAndGlyphs" >26.80</text>
<line x1="453.2" y1="413.3" x2="453.2" y2="489.6" stroke="#1e1e1e" stroke-width="0.9" />
<line x1="465.7" y1="413.3" x2="465.7" y2="518.0" stroke="#1e1e1e" stroke-width="0.9" />
<line x1="510.6" y1="413.3" x2="510.6" y2="518.0" stroke="#1e1e1e" stroke-width="0.9" />
<line x1="519.3" y1="413.3" x2="519.3" y2="540.8" stroke="#1e1e1e" stroke-width="0.9" />
<line x1="523.2" y1="413.3" x2="523.2" y2="560.6" stroke="#1e1e1e" stroke-width="0.9" />
<line x1="474.0" y1="489.6" x2="488.2" y2="489.6" stroke="#1e1e1e" stroke-width="0.9" />
<polygon points="487.70,489.20 485.09,488.15 481.90,488.22 481.90,490.98 485.09,491.05 487.70,490.00" fill="#111"/>
<line x1="510.6" y1="489.6" x2="525.0" y2="489.6" stroke="#1e1e1e" stroke-width="0.9" />
<polygon points="511.10,489.20 513.71,488.15 516.90,488.22 516.90,490.98 513.71,491.05 511.10,490.00" fill="#111"/>
<rect x="491.6" y="484.4" width="12.0" height="10.2" fill="#fff" stroke="#1e1e1e" stroke-width="0.9" />
<text x="497.6" y="492.7" font-size="9" text-anchor="middle" fill="#262626" font-weight="normal" >5</text>
<line x1="452.0" y1="518.0" x2="465.7" y2="518.0" stroke="#1e1e1e" stroke-width="0.9" />
<polygon points="465.20,517.60 462.59,516.55 459.40,516.62 459.40,519.38 462.59,519.45 465.20,518.40" fill="#111"/>
<line x1="510.6" y1="518.0" x2="525.0" y2="518.0" stroke="#1e1e1e" stroke-width="0.9" />
<polygon points="511.10,517.60 513.71,516.55 516.90,516.62 516.90,519.38 513.71,519.45 511.10,518.40" fill="#111"/>
<rect x="479.4" y="506.4" width="14.2" height="10.0" fill="#fff" stroke="#1e1e1e" stroke-width="0.9" />
<text x="486.5" y="514.6" font-size="9" text-anchor="middle" fill="#262626" font-weight="normal" >10</text>
<text x="466.6" y="524.4" font-size="8.5" text-anchor="start" fill="#262626" font-weight="normal" textLength="40.4" lengthAdjust="spacingAndGlyphs" >3 PLACES</text>
<line x1="332.3" y1="540.7" x2="519.3" y2="540.7" stroke="#1e1e1e" stroke-width="0.9" />
<polygon points="332.80,540.30 335.41,539.25 338.60,539.32 338.60,542.08 335.41,542.15 332.80,541.10" fill="#111"/>
<polygon points="518.80,540.30 516.19,539.25 513.00,539.32 513.00,542.08 516.19,542.15 518.80,541.10" fill="#111"/>
<rect x="410" y="536" width="25" height="9" fill="#fff"/>
<text x="411.6" y="544.0" font-size="8.5" text-anchor="start" fill="#262626" font-weight="normal" textLength="21.4" lengthAdjust="spacingAndGlyphs" >41.30</text>
<line x1="332.3" y1="560.4" x2="523.2" y2="560.4" stroke="#1e1e1e" stroke-width="0.9" />
<polygon points="332.80,560.00 335.41,558.95 338.60,559.02 338.60,561.78 335.41,561.85 332.80,560.80" fill="#111"/>
<polygon points="522.70,560.00 520.09,558.95 516.90,559.02 516.90,561.78 520.09,561.85 522.70,560.80" fill="#111"/>
<rect x="410" y="556" width="25" height="9" fill="#fff"/>
<text x="411.6" y="563.8" font-size="8.5" text-anchor="start" fill="#262626" font-weight="normal" textLength="21.4" lengthAdjust="spacingAndGlyphs" >42.30</text>
<line x1="523.2" y1="344.5" x2="704.7" y2="344.5" stroke="#1e1e1e" stroke-width="0.9" />
<line x1="520.0" y1="355.0" x2="675.0" y2="355.0" stroke="#1e1e1e" stroke-width="0.9" />
<line x1="520.0" y1="360.1" x2="595.4" y2="360.1" stroke="#1e1e1e" stroke-width="0.9" />
<line x1="520.0" y1="368.7" x2="595.4" y2="368.7" stroke="#1e1e1e" stroke-width="0.9" />
<line x1="520.0" y1="376.1" x2="650.8" y2="376.1" stroke="#1e1e1e" stroke-width="0.9" />
<line x1="520.0" y1="383.2" x2="628.2" y2="383.2" stroke="#1e1e1e" stroke-width="0.9" />
<line x1="520.0" y1="390.7" x2="609.3" y2="390.7" stroke="#1e1e1e" stroke-width="0.9" />
<line x1="520.0" y1="398.4" x2="704.7" y2="398.4" stroke="#1e1e1e" stroke-width="0.9" />
<line x1="567.9" y1="320.0" x2="567.9" y2="344.5" stroke="#1e1e1e" stroke-width="0.9" />
<polygon points="567.50,344.00 566.45,341.39 566.52,338.20 569.28,338.20 569.35,341.39 568.30,344.00" fill="#111"/>
<line x1="567.9" y1="320.0" x2="569.5" y2="318.5" stroke="#1e1e1e" stroke-width="0.7" />
<line x1="567.9" y1="360.1" x2="567.9" y2="374.4" stroke="#1e1e1e" stroke-width="0.9" />
<polygon points="567.50,360.60 566.45,363.21 566.52,366.40 569.28,366.40 569.35,363.21 568.30,360.60" fill="#111"/>
<text x="570.5" y="324.0" font-size="8.3" text-anchor="start" fill="#262626" font-weight="normal" textLength="16.1" lengthAdjust="spacingAndGlyphs" >3.68</text>
<line x1="595.4" y1="330.4" x2="595.4" y2="360.1" stroke="#1e1e1e" stroke-width="0.9" />
<polygon points="595.00,359.60 593.95,356.99 594.02,353.80 596.78,353.80 596.85,356.99 595.80,359.60" fill="#111"/>
<line x1="595.4" y1="330.4" x2="597.0" y2="329.0" stroke="#1e1e1e" stroke-width="0.7" />
<line x1="595.4" y1="368.7" x2="595.4" y2="383.2" stroke="#1e1e1e" stroke-width="0.9" />
<polygon points="595.00,369.20 593.95,371.81 594.02,375.00 596.78,375.00 596.85,371.81 595.80,369.20" fill="#111"/>
<text x="598.5" y="333.3" font-size="8.3" text-anchor="start" fill="#262626" font-weight="normal" textLength="15.4" lengthAdjust="spacingAndGlyphs" >1.70</text>
<line x1="627.7" y1="330.4" x2="627.7" y2="344.5" stroke="#1e1e1e" stroke-width="0.9" />
<polygon points="627.30,344.00 626.25,341.39 626.32,338.20 629.08,338.20 629.15,341.39 628.10,344.00" fill="#111"/>
<line x1="627.7" y1="330.4" x2="629.3" y2="329.0" stroke="#1e1e1e" stroke-width="0.7" />
<text x="630.4" y="333.3" font-size="8.3" text-anchor="start" fill="#262626" font-weight="normal" textLength="16.0" lengthAdjust="spacingAndGlyphs" >8.48</text>
<line x1="609.3" y1="368.9" x2="609.3" y2="383.2" stroke="#1e1e1e" stroke-width="0.9" />
<polygon points="608.90,382.70 607.85,380.09 607.92,376.90 610.68,376.90 610.75,380.09 609.70,382.70" fill="#111"/>
<line x1="609.3" y1="390.7" x2="609.3" y2="417.3" stroke="#1e1e1e" stroke-width="0.9" />
<polygon points="608.90,391.20 607.85,393.81 607.92,397.00 610.68,397.00 610.75,393.81 609.70,391.20" fill="#111"/>
<line x1="609.3" y1="417.3" x2="611.5" y2="417.3" stroke="#1e1e1e" stroke-width="0.7" />
<text x="612.8" y="420.8" font-size="8.3" text-anchor="start" fill="#262626" font-weight="normal" textLength="14.9" lengthAdjust="spacingAndGlyphs" >1.70</text>
<line x1="650.8" y1="362.9" x2="650.8" y2="376.1" stroke="#1e1e1e" stroke-width="0.9" />
<polygon points="650.40,375.60 649.35,372.99 649.42,369.80 652.18,369.80 652.25,372.99 651.20,375.60" fill="#111"/>
<line x1="650.8" y1="398.4" x2="650.8" y2="411.8" stroke="#1e1e1e" stroke-width="0.9" />
<polygon points="650.40,398.90 649.35,401.51 649.42,404.70 652.18,404.70 652.25,401.51 651.20,398.90" fill="#111"/>
<line x1="628.2" y1="383.2" x2="628.2" y2="396.4" stroke="#1e1e1e" stroke-width="0.9" />
<polygon points="627.80,383.70 626.75,386.31 626.82,389.50 629.58,389.50 629.65,386.31 628.60,383.70" fill="#111"/>
<rect x="638.3" y="384.4" width="24.2" height="9.8" fill="#fff" stroke="#1e1e1e" stroke-width="0.9" />
<text x="650.4" y="392.5" font-size="9" text-anchor="middle" fill="#262626" font-weight="normal" >4.80</text>
<line x1="674.8" y1="355.0" x2="674.8" y2="398.4" stroke="#1e1e1e" stroke-width="0.9" />
<polygon points="674.40,355.50 673.35,358.11 673.42,361.30 676.18,361.30 676.25,358.11 675.20,355.50" fill="#111"/>
<polygon points="674.40,397.90 673.35,395.29 673.42,392.10 676.18,392.10 676.25,395.29 675.20,397.90" fill="#111"/>
<rect x="662.8" y="371.8" width="24.4" height="9.7" fill="#fff" stroke="#1e1e1e" stroke-width="0.9" />
<text x="675.0" y="380.1" font-size="9.5" text-anchor="middle" fill="#262626" font-weight="normal" >9.60</text>
<line x1="704.7" y1="344.5" x2="704.7" y2="398.4" stroke="#1e1e1e" stroke-width="0.9" />
<polygon points="704.30,345.00 703.25,347.61 703.32,350.80 706.08,350.80 706.15,347.61 705.10,345.00" fill="#111"/>
<polygon points="704.30,397.90 703.25,395.29 703.32,392.10 706.08,392.10 706.15,395.29 705.10,397.90" fill="#111"/>
<rect x="690.2" y="361.3" width="28.3" height="10.2" fill="#fff" stroke="#1e1e1e" stroke-width="0.9" />
<text x="704.4" y="369.8" font-size="9.5" text-anchor="middle" fill="#262626" font-weight="normal" >11.93</text>
<line x1="607.0" y1="261.0" x2="552.0" y2="299.5" stroke="#1e1e1e" stroke-width="0.9" />
<line x1="552.0" y1="299.5" x2="489.5" y2="343.0" stroke="#1e1e1e" stroke-width="0.9" />
<polygon points="489.5,343.0 494.6,337.6 496.4,340.2" fill="#111"/>
<text x="615.0" y="262.3" font-size="9" text-anchor="start" fill="#262626" font-weight="normal" textLength="47.5" lengthAdjust="spacingAndGlyphs" >&#216;0.85&#177;0.05</text>
<polygon points="677.0,258.2 674.2,262.2 668.8,262.2 666.0,258.2 668.8,254.2 674.2,254.2" fill="#fff" stroke="#111" stroke-width="1.1"/>
<text x="671.5" y="260.9" font-size="7.5" text-anchor="middle" fill="#262626" font-weight="normal" >2</text>
<text x="609.6" y="270.2" font-size="9" text-anchor="start" fill="#262626" font-weight="normal" textLength="55.0" lengthAdjust="spacingAndGlyphs" >(MARKED "S")</text>
<rect x="608.4" y="271.4" width="65.2" height="13.0" fill="#fff" stroke="#1e1e1e" stroke-width="0.9" />
<line x1="621.6" y1="271.4" x2="621.6" y2="284.4" stroke="#1e1e1e" stroke-width="0.9" />
<line x1="648.4" y1="271.4" x2="648.4" y2="284.4" stroke="#1e1e1e" stroke-width="0.9" />
<line x1="661.0" y1="271.4" x2="661.0" y2="284.4" stroke="#1e1e1e" stroke-width="0.9" />
<circle cx="615.0" cy="277.9" r="3.38" fill="none" stroke="#1e1e1e" stroke-width="0.9"/>
<line x1="610.1" y1="277.9" x2="619.9" y2="277.9" stroke="#1e1e1e" stroke-width="0.9" />
<line x1="615.0" y1="273.0" x2="615.0" y2="282.8" stroke="#1e1e1e" stroke-width="0.9" />
<text x="654.7" y="281.0" font-size="8.5" text-anchor="middle" fill="#262626">A</text>
<text x="667.3" y="281.0" font-size="8.5" text-anchor="middle" fill="#262626">B</text>
<text x="625.5" y="281.0" font-size="8.5" text-anchor="start" fill="#262626" font-weight="normal" >&#216;</text>
<text x="633.5" y="281.0" font-size="8.5" text-anchor="start" fill="#262626" font-weight="normal" textLength="12.0" lengthAdjust="spacingAndGlyphs" >0.1</text>
<polygon points="636.2,284.4 645.0,284.4 640.6,291.8" fill="#111"/>
<line x1="640.6" y1="291.0" x2="640.6" y2="297.0" stroke="#1e1e1e" stroke-width="0.9" />
<rect x="632.4" y="297.0" width="16.6" height="16.6" fill="none" stroke="#1e1e1e" stroke-width="0.9" />
<text x="640.7" y="308.6" font-size="9.5" text-anchor="middle" fill="#262626" font-weight="normal" >C</text>
<polyline points="581.6,476.4 523.5,403.5" fill="none" stroke="#1e1e1e" stroke-width="0.9" />
<polyline points="591.0,517.2 588.8,517.2 512.0,397.2" fill="none" stroke="#1e1e1e" stroke-width="0.9" />
<circle cx="512.3" cy="397.6" r="1.3" fill="#111"/>
<polygon points="523.5,403.5 530.6,409.4 528.2,411.3" fill="#111"/>
<text x="582.8" y="474.6" font-size="9" text-anchor="start" fill="#262626" font-weight="normal" textLength="11.0" lengthAdjust="spacingAndGlyphs" >9X</text>
<text x="596.0" y="474.6" font-size="9" text-anchor="start" fill="#262626" font-weight="normal" textLength="47.0" lengthAdjust="spacingAndGlyphs" >&#216;0.95&#177;0.05</text>
<polygon points="657.1,470.8 654.4,474.7 649.1,474.7 646.5,470.8 649.1,466.9 654.4,466.9" fill="#fff" stroke="#111" stroke-width="1.1"/>
<text x="651.8" y="473.5" font-size="7.5" text-anchor="middle" fill="#262626" font-weight="normal" >3</text>
<text x="583.0" y="483.5" font-size="8.5" text-anchor="start" fill="#262626" font-weight="normal" textLength="58.5" lengthAdjust="spacingAndGlyphs" >(MARKED "G")</text>
<rect x="581.6" y="485.3" width="76.8" height="12.0" fill="#fff" stroke="#1e1e1e" stroke-width="0.9" />
<line x1="595.5" y1="485.3" x2="595.5" y2="497.3" stroke="#1e1e1e" stroke-width="0.9" />
<line x1="631.5" y1="485.3" x2="631.5" y2="497.3" stroke="#1e1e1e" stroke-width="0.9" />
<line x1="645.2" y1="485.3" x2="645.2" y2="497.3" stroke="#1e1e1e" stroke-width="0.9" />
<circle cx="588.5" cy="491.3" r="3.12" fill="none" stroke="#1e1e1e" stroke-width="0.9"/>
<line x1="583.9" y1="491.3" x2="593.2" y2="491.3" stroke="#1e1e1e" stroke-width="0.9" />
<line x1="588.5" y1="486.7" x2="588.5" y2="495.9" stroke="#1e1e1e" stroke-width="0.9" />
<text x="638.4" y="494.4" font-size="8.5" text-anchor="middle" fill="#262626">A</text>
<text x="651.8" y="494.4" font-size="8.5" text-anchor="middle" fill="#262626">C</text>
<text x="598.0" y="494.5" font-size="8.5" text-anchor="start" fill="#262626" font-weight="normal" >&#216;</text>
<text x="605.0" y="494.5" font-size="8.5" text-anchor="start" fill="#262626" font-weight="normal" textLength="12.5" lengthAdjust="spacingAndGlyphs" >0.1</text>
<circle cx="624.5" cy="491.3" r="4.0" fill="none" stroke="#1e1e1e" stroke-width="0.9" />
<text x="624.5" y="494.3" font-size="7" text-anchor="middle" fill="#262626" font-weight="normal" >L</text>
<text x="590.0" y="520.4" font-size="6.3" text-anchor="start" fill="#262626" font-weight="normal" textLength="66.0" lengthAdjust="spacingAndGlyphs" >THIS AREA DENOTES</text>
<text x="590.0" y="526.6" font-size="6.3" text-anchor="start" fill="#262626" font-weight="normal" textLength="75.0" lengthAdjust="spacingAndGlyphs" >COMPONENT KEEP-OUT</text>
<text x="590.0" y="532.8" font-size="6.3" text-anchor="start" fill="#262626" font-weight="normal" textLength="63.0" lengthAdjust="spacingAndGlyphs" >(TRACES ALLOWED)</text>
<text x="542.0" y="556.3" font-size="10" text-anchor="start" fill="#262626" font-weight="normal" textLength="178.8" lengthAdjust="spacingAndGlyphs" >ALL DIMENSIONS ARE IN MILLIMETERS</text>
<text x="695.0" y="171.2" font-size="7" text-anchor="start" fill="#262626" font-weight="normal" textLength="26.0" lengthAdjust="spacingAndGlyphs" >NOTES:</text>
<text x="703.0" y="186.6" font-size="7" text-anchor="start" fill="#262626" font-weight="normal" textLength="109.0" lengthAdjust="spacingAndGlyphs" >DATUM AND BASIC DIMENSIONS</text>
<text x="703.0" y="192.6" font-size="7" text-anchor="start" fill="#262626" font-weight="normal" textLength="101.0" lengthAdjust="spacingAndGlyphs" >ESTABLISHED BY CUSTOMER.</text>
<text x="703.0" y="206.6" font-size="7" text-anchor="start" fill="#262626" font-weight="normal" textLength="101.5" lengthAdjust="spacingAndGlyphs" >PADS AND VIAS ARE CHASSIS</text>
<text x="703.0" y="212.6" font-size="7" text-anchor="start" fill="#262626" font-weight="normal" textLength="69.0" lengthAdjust="spacingAndGlyphs" >GROUND 11 PLACES</text>
<text x="703.0" y="227.0" font-size="7" text-anchor="start" fill="#262626" font-weight="normal" textLength="114.0" lengthAdjust="spacingAndGlyphs" >THRU HOLES, PLATING OPTIONAL</text>
<text x="703.0" y="240.4" font-size="7" text-anchor="start" fill="#262626" font-weight="normal" textLength="103.0" lengthAdjust="spacingAndGlyphs" >HOLES DENOTED WITH "A" ARE</text>
<text x="703.0" y="246.6" font-size="7" text-anchor="start" fill="#262626" font-weight="normal" textLength="111.0" lengthAdjust="spacingAndGlyphs" >NOT REQUIRED WITH PICOLIGHT</text>
<text x="703.0" y="252.8" font-size="7" text-anchor="start" fill="#262626" font-weight="normal" textLength="63.0" lengthAdjust="spacingAndGlyphs" >CAGES (6 PLACES)</text>
<text x="703.0" y="268.8" font-size="7" text-anchor="start" fill="#262626" font-weight="normal" textLength="83.0" lengthAdjust="spacingAndGlyphs" >ALL DIMENSIONS ARE IN</text>
<text x="703.0" y="275.0" font-size="7" text-anchor="start" fill="#262626" font-weight="normal" textLength="46.0" lengthAdjust="spacingAndGlyphs" >MILLIMETERS</text>
<text x="695.0" y="240.4" font-size="7" text-anchor="start" fill="#262626" font-weight="normal" >4.</text>
<text x="695.0" y="268.8" font-size="7" text-anchor="start" fill="#262626" font-weight="normal" >5.</text>
<polygon points="700.4,184.0 698.2,187.2 693.8,187.2 691.6,184.0 693.8,180.8 698.2,180.8" fill="#fff" stroke="#111" stroke-width="1.1"/>
<text x="696.0" y="186.3" font-size="6.5" text-anchor="middle" fill="#262626" font-weight="normal" >1</text>
<polygon points="700.4,204.0 698.2,207.2 693.8,207.2 691.6,204.0 693.8,200.8 698.2,200.8" fill="#fff" stroke="#111" stroke-width="1.1"/>
<text x="696.0" y="206.3" font-size="6.5" text-anchor="middle" fill="#262626" font-weight="normal" >2</text>
<polygon points="700.4,224.0 698.2,227.2 693.8,227.2 691.6,224.0 693.8,220.8 698.2,220.8" fill="#fff" stroke="#111" stroke-width="1.1"/>
<text x="696.0" y="226.3" font-size="6.5" text-anchor="middle" fill="#262626" font-weight="normal" >3</text>
<clipPath id="cp2"><path d="M 342.4 657.5 L 545.6 657.5 L 545.6 714.3 L 533.2 714.3 L 533.2 681.5 L 352.4 681.5 L 352.4 833.8 L 533.2 833.8 L 533.2 796.6 L 545.6 796.6 L 545.6 858.4 L 342.4 858.4 Z"/><rect x="533.2" y="736.6" width="12.4" height="37.9"/></clipPath>
<path clip-path="url(#cp2)" d="M129.00 860.40L333.90 655.50M143.00 860.40L347.90 655.50M157.00 860.40L361.90 655.50M171.00 860.40L375.90 655.50M185.00 860.40L389.90 655.50M199.00 860.40L403.90 655.50M213.00 860.40L417.90 655.50M227.00 860.40L431.90 655.50M241.00 860.40L445.90 655.50M255.00 860.40L459.90 655.50M269.00 860.40L473.90 655.50M283.00 860.40L487.90 655.50M297.00 860.40L501.90 655.50M311.00 860.40L515.90 655.50M325.00 860.40L529.90 655.50M339.00 860.40L543.90 655.50M353.00 860.40L557.90 655.50M367.00 860.40L571.90 655.50M381.00 860.40L585.90 655.50M395.00 860.40L599.90 655.50M409.00 860.40L613.90 655.50M423.00 860.40L627.90 655.50M437.00 860.40L641.90 655.50M451.00 860.40L655.90 655.50M465.00 860.40L669.90 655.50M479.00 860.40L683.90 655.50M493.00 860.40L697.90 655.50M507.00 860.40L711.90 655.50M521.00 860.40L725.90 655.50M535.00 860.40L739.90 655.50M549.00 860.40L753.90 655.50M563.00 860.40L767.90 655.50" stroke="#111" stroke-width="1.3" fill="none"/>
<rect x="436.2" y="657.5" width="24.8" height="24.0" fill="#fff"/>
<line x1="436.2" y1="657.5" x2="436.2" y2="681.5" stroke="#555" stroke-width="0.8" />
<line x1="461.0" y1="657.5" x2="461.0" y2="681.5" stroke="#555" stroke-width="0.8" />
<rect x="374.4" y="833.8" width="24.6" height="24.6" fill="#fff"/>
<line x1="374.4" y1="833.8" x2="374.4" y2="858.4" stroke="#555" stroke-width="0.8" />
<line x1="399.0" y1="833.8" x2="399.0" y2="858.4" stroke="#555" stroke-width="0.8" />
<rect x="498.8" y="833.8" width="24.8" height="24.6" fill="#fff"/>
<line x1="498.8" y1="833.8" x2="498.8" y2="858.4" stroke="#555" stroke-width="0.8" />
<line x1="523.6" y1="833.8" x2="523.6" y2="858.4" stroke="#555" stroke-width="0.8" />
<path d="M 342.4 657.5 L 545.6 657.5 L 545.6 714.3 L 533.2 714.3 L 533.2 681.5 L 352.4 681.5 L 352.4 833.8 L 533.2 833.8 L 533.2 796.6 L 545.6 796.6 L 545.6 858.4 L 342.4 858.4" fill="none" stroke="#1e1e1e" stroke-width="1"/>
<rect x="533.2" y="736.6" width="12.4" height="37.9" fill="none" stroke="#1e1e1e" stroke-width="1" />
<rect x="342.4" y="646.2" width="229.2" height="222.6" fill="none" stroke="#333" stroke-width="1.2" stroke-dasharray="18 3.5 5 3.5 5 3.5"/>
<circle cx="358.6" cy="669.5" r="5.5" fill="#fff" stroke="#1e1e1e" stroke-width="1.0" />
<line x1="351.1" y1="669.5" x2="366.1" y2="669.5" stroke="#222" stroke-width="0.8" />
<line x1="358.6" y1="662.0" x2="358.6" y2="677.0" stroke="#222" stroke-width="0.8" />
<circle cx="417.4" cy="669.5" r="5.5" fill="#fff" stroke="#1e1e1e" stroke-width="1.0" />
<line x1="409.9" y1="669.5" x2="424.9" y2="669.5" stroke="#222" stroke-width="0.8" />
<line x1="417.4" y1="662.0" x2="417.4" y2="677.0" stroke="#222" stroke-width="0.8" />
<circle cx="448.6" cy="669.5" r="5.5" fill="#fff" stroke="#1e1e1e" stroke-width="1.0" />
<line x1="441.1" y1="669.5" x2="456.1" y2="669.5" stroke="#222" stroke-width="0.8" />
<line x1="448.6" y1="662.0" x2="448.6" y2="677.0" stroke="#222" stroke-width="0.8" />
<circle cx="480.0" cy="669.5" r="5.5" fill="#fff" stroke="#1e1e1e" stroke-width="1.0" />
<line x1="472.5" y1="669.5" x2="487.5" y2="669.5" stroke="#222" stroke-width="0.8" />
<line x1="480.0" y1="662.0" x2="480.0" y2="677.0" stroke="#222" stroke-width="0.8" />
<circle cx="537.6" cy="698.2" r="6.0" fill="#fff" stroke="#1e1e1e" stroke-width="1.0" />
<line x1="529.6" y1="698.2" x2="545.6" y2="698.2" stroke="#222" stroke-width="0.8" />
<line x1="537.6" y1="690.2" x2="537.6" y2="706.2" stroke="#222" stroke-width="0.8" />
<circle cx="537.6" cy="757.5" r="6.0" fill="#fff" stroke="#1e1e1e" stroke-width="1.0" />
<line x1="529.6" y1="757.5" x2="545.6" y2="757.5" stroke="#222" stroke-width="0.8" />
<line x1="537.6" y1="749.5" x2="537.6" y2="765.5" stroke="#222" stroke-width="0.8" />
<circle cx="537.6" cy="817.6" r="6.0" fill="#fff" stroke="#1e1e1e" stroke-width="1.0" />
<line x1="529.6" y1="817.6" x2="545.6" y2="817.6" stroke="#222" stroke-width="0.8" />
<line x1="537.6" y1="809.6" x2="537.6" y2="825.6" stroke="#222" stroke-width="0.8" />
<circle cx="359.0" cy="846.5" r="5.5" fill="#fff" stroke="#1e1e1e" stroke-width="1.0" />
<line x1="351.5" y1="846.5" x2="366.5" y2="846.5" stroke="#222" stroke-width="0.8" />
<line x1="359.0" y1="839.0" x2="359.0" y2="854.0" stroke="#222" stroke-width="0.8" />
<circle cx="386.6" cy="846.5" r="5.5" fill="#fff" stroke="#1e1e1e" stroke-width="1.0" />
<line x1="379.1" y1="846.5" x2="394.1" y2="846.5" stroke="#222" stroke-width="0.8" />
<line x1="386.6" y1="839.0" x2="386.6" y2="854.0" stroke="#222" stroke-width="0.8" />
<circle cx="417.6" cy="846.5" r="5.5" fill="#fff" stroke="#1e1e1e" stroke-width="1.0" />
<line x1="410.1" y1="846.5" x2="425.1" y2="846.5" stroke="#222" stroke-width="0.8" />
<line x1="417.6" y1="839.0" x2="417.6" y2="854.0" stroke="#222" stroke-width="0.8" />
<circle cx="480.0" cy="846.5" r="5.5" fill="#fff" stroke="#1e1e1e" stroke-width="1.0" />
<line x1="472.5" y1="846.5" x2="487.5" y2="846.5" stroke="#222" stroke-width="0.8" />
<line x1="480.0" y1="839.0" x2="480.0" y2="854.0" stroke="#222" stroke-width="0.8" />
<circle cx="511.0" cy="846.5" r="5.5" fill="#fff" stroke="#1e1e1e" stroke-width="1.0" />
<line x1="503.5" y1="846.5" x2="518.5" y2="846.5" stroke="#222" stroke-width="0.8" />
<line x1="511.0" y1="839.0" x2="511.0" y2="854.0" stroke="#222" stroke-width="0.8" />
<text x="363.0" y="654.2" font-size="9" text-anchor="middle" fill="#333" font-weight="normal" >G</text>
<text x="418.0" y="654.2" font-size="9" text-anchor="middle" fill="#333" font-weight="normal" >G</text>
<text x="443.6" y="656.2" font-size="9" text-anchor="middle" fill="#333" font-weight="normal" >S</text>
<text x="480.0" y="655.6" font-size="9" text-anchor="middle" fill="#333" font-weight="normal" >G</text>
<text x="551.7" y="701.0" font-size="9" text-anchor="middle" fill="#333" font-weight="normal" >G</text>
<text x="553.5" y="762.5" font-size="9" text-anchor="middle" fill="#333" font-weight="normal" >G</text>
<text x="553.8" y="825.4" font-size="9" text-anchor="middle" fill="#333" font-weight="normal" >G</text>
<text x="359.0" y="866.4" font-size="9" text-anchor="middle" fill="#333" font-weight="normal" >G</text>
<text x="417.6" y="866.4" font-size="9" text-anchor="middle" fill="#333" font-weight="normal" >G</text>
<text x="480.0" y="866.4" font-size="9" text-anchor="middle" fill="#333" font-weight="normal" >G</text>
<circle cx="459.7" cy="698.2" r="9.8" fill="#fff" stroke="#1e1e1e" stroke-width="1.0" stroke-dasharray="14 2"/>
<line x1="449.0" y1="698.2" x2="473.0" y2="698.2" stroke="#444" stroke-width="0.7" stroke-dasharray="4 2 2 2"/>
<line x1="459.7" y1="685.2" x2="459.7" y2="711.2" stroke="#444" stroke-width="0.7" stroke-dasharray="4 2 2 2"/>
<circle cx="459.7" cy="817.6" r="9.8" fill="#fff" stroke="#1e1e1e" stroke-width="1.0" stroke-dasharray="14 2"/>
<line x1="449.0" y1="817.6" x2="473.0" y2="817.6" stroke="#444" stroke-width="0.7" stroke-dasharray="4 2 2 2"/>
<line x1="459.7" y1="804.6" x2="459.7" y2="830.6" stroke="#444" stroke-width="0.7" stroke-dasharray="4 2 2 2"/>
<rect x="396.3" y="712.4" width="25.4" height="6.7" fill="#fff" stroke="#1e1e1e" stroke-width="1.0" />
<rect x="396.3" y="722.4" width="25.4" height="6.7" fill="#fff" stroke="#1e1e1e" stroke-width="1.0" />
<rect x="396.3" y="732.4" width="25.4" height="6.7" fill="#fff" stroke="#1e1e1e" stroke-width="1.0" />
<rect x="396.3" y="742.4" width="25.4" height="6.7" fill="#fff" stroke="#1e1e1e" stroke-width="1.0" />
<rect x="396.3" y="752.4" width="25.4" height="6.7" fill="#fff" stroke="#1e1e1e" stroke-width="1.0" />
<rect x="396.3" y="762.4" width="25.4" height="6.7" fill="#fff" stroke="#1e1e1e" stroke-width="1.0" />
<rect x="396.3" y="772.4" width="25.4" height="6.7" fill="#fff" stroke="#1e1e1e" stroke-width="1.0" />
<rect x="396.3" y="782.4" width="25.4" height="6.7" fill="#fff" stroke="#1e1e1e" stroke-width="1.0" />
<rect x="396.3" y="792.4" width="25.4" height="6.7" fill="#fff" stroke="#1e1e1e" stroke-width="1.0" />
<rect x="396.3" y="802.4" width="25.4" height="6.7" fill="#fff" stroke="#1e1e1e" stroke-width="1.0" />
<rect x="498.5" y="707.4" width="25.1" height="6.7" fill="#fff" stroke="#1e1e1e" stroke-width="1.0" />
<rect x="498.5" y="717.4" width="25.1" height="6.7" fill="#fff" stroke="#1e1e1e" stroke-width="1.0" />
<rect x="498.5" y="727.4" width="25.1" height="6.7" fill="#fff" stroke="#1e1e1e" stroke-width="1.0" />
<rect x="498.5" y="737.4" width="25.1" height="6.7" fill="#fff" stroke="#1e1e1e" stroke-width="1.0" />
<rect x="498.5" y="747.4" width="25.1" height="6.7" fill="#fff" stroke="#1e1e1e" stroke-width="1.0" />
<rect x="498.5" y="757.4" width="25.1" height="6.7" fill="#fff" stroke="#1e1e1e" stroke-width="1.0" />
<rect x="498.5" y="767.4" width="25.1" height="6.7" fill="#fff" stroke="#1e1e1e" stroke-width="1.0" />
<rect x="498.5" y="777.4" width="25.1" height="6.7" fill="#fff" stroke="#1e1e1e" stroke-width="1.0" />
<rect x="498.5" y="787.4" width="25.1" height="6.7" fill="#fff" stroke="#1e1e1e" stroke-width="1.0" />
<rect x="498.5" y="797.4" width="25.1" height="6.7" fill="#fff" stroke="#1e1e1e" stroke-width="1.0" />
<line x1="409.6" y1="622.8" x2="409.6" y2="814.0" stroke="#777" stroke-width="0.7" />
<line x1="510.5" y1="586.0" x2="510.5" y2="813.0" stroke="#1e1e1e" stroke-width="0.9" />
<line x1="448.3" y1="586.0" x2="448.3" y2="658.0" stroke="#1e1e1e" stroke-width="0.9" />
<line x1="459.5" y1="622.8" x2="459.5" y2="682.0" stroke="#1e1e1e" stroke-width="0.9" />
<line x1="200.0" y1="669.6" x2="740.4" y2="669.6" stroke="#1e1e1e" stroke-width="0.8" />
<line x1="251.0" y1="698.4" x2="449.0" y2="698.4" stroke="#444" stroke-width="0.7" />
<line x1="315.4" y1="795.4" x2="388.0" y2="795.4" stroke="#1e1e1e" stroke-width="0.8" />
<line x1="389.0" y1="795.4" x2="427.7" y2="795.4" stroke="#1e1e1e" stroke-width="0.8" stroke-dasharray="5 2.5"/>
<line x1="199.0" y1="805.4" x2="388.0" y2="805.4" stroke="#1e1e1e" stroke-width="0.8" />
<line x1="389.0" y1="805.4" x2="427.7" y2="805.4" stroke="#1e1e1e" stroke-width="0.8" stroke-dasharray="5 2.5"/>
<line x1="251.0" y1="817.6" x2="740.4" y2="817.6" stroke="#555" stroke-width="0.7" />
<line x1="492.0" y1="791.1" x2="528.0" y2="791.1" stroke="#444" stroke-width="0.8" stroke-dasharray="5 2.5"/>
<line x1="528.0" y1="791.1" x2="656.6" y2="791.1" stroke="#444" stroke-width="0.8" />
<line x1="528.0" y1="796.9" x2="603.6" y2="796.9" stroke="#1e1e1e" stroke-width="0.8" />
<line x1="528.0" y1="803.1" x2="603.6" y2="803.1" stroke="#1e1e1e" stroke-width="0.8" />
<line x1="494.4" y1="800.7" x2="528.0" y2="800.7" stroke="#1e1e1e" stroke-width="0.8" stroke-dasharray="5 2.5"/>
<line x1="528.0" y1="800.7" x2="692.4" y2="800.7" stroke="#1e1e1e" stroke-width="0.8" />
<line x1="498.8" y1="808.7" x2="498.8" y2="908.6" stroke="#1e1e1e" stroke-width="0.9" />
<line x1="523.6" y1="808.7" x2="523.6" y2="908.6" stroke="#1e1e1e" stroke-width="0.9" />
<line x1="448.3" y1="586.0" x2="534.4" y2="586.0" stroke="#1e1e1e" stroke-width="0.9" />
<polygon points="448.30,585.60 451.81,584.55 456.10,584.62 456.10,587.38 451.81,587.45 448.30,586.40" fill="#111"/>
<polygon points="510.50,585.60 506.99,584.55 502.70,584.62 502.70,587.38 506.99,587.45 510.50,586.40" fill="#111"/>
<text x="536.6" y="589.9" font-size="9.5" text-anchor="start" fill="#262626" font-weight="normal" textLength="16.4" lengthAdjust="spacingAndGlyphs" >10X</text>
<rect x="556.0" y="581.6" width="11.4" height="10.8" fill="#fff" stroke="#1e1e1e" stroke-width="0.9" />
<text x="561.7" y="590.4" font-size="9.5" text-anchor="middle" fill="#262626" font-weight="normal" >5</text>
<line x1="397.6" y1="622.8" x2="448.3" y2="622.8" stroke="#1e1e1e" stroke-width="0.9" />
<polygon points="410.00,622.40 413.51,621.35 417.80,621.42 417.80,624.18 413.51,624.25 410.00,623.20" fill="#111"/>
<polygon points="448.30,622.40 444.79,621.35 440.50,621.42 440.50,624.18 444.79,624.25 448.30,623.20" fill="#111"/>
<text x="353.0" y="626.4" font-size="9.5" text-anchor="start" fill="#262626" font-weight="normal" textLength="16.6" lengthAdjust="spacingAndGlyphs" >10X</text>
<rect x="372.0" y="617.6" width="25.6" height="10.4" fill="#fff" stroke="#1e1e1e" stroke-width="0.9" />
<text x="384.8" y="626.2" font-size="9.5" text-anchor="middle" fill="#262626" font-weight="normal" >3.20</text>
<line x1="459.5" y1="622.8" x2="526.4" y2="622.8" stroke="#1e1e1e" stroke-width="0.9" />
<polygon points="459.50,622.40 463.01,621.35 467.30,621.42 467.30,624.18 463.01,624.25 459.50,623.20" fill="#111"/>
<text x="528.6" y="626.1" font-size="9.5" text-anchor="start" fill="#262626" font-weight="normal" textLength="12.5" lengthAdjust="spacingAndGlyphs" >2X</text>
<rect x="543.6" y="617.6" width="24.8" height="11.0" fill="#fff" stroke="#1e1e1e" stroke-width="0.9" />
<text x="556.0" y="626.5" font-size="9.5" text-anchor="middle" fill="#262626" font-weight="normal" >0.90</text>
<line x1="200.4" y1="669.6" x2="200.4" y2="805.4" stroke="#1e1e1e" stroke-width="0.9" />
<polygon points="200.00,670.10 198.95,673.34 199.02,677.30 201.78,677.30 201.85,673.34 200.80,670.10" fill="#111"/>
<polygon points="200.00,804.90 198.95,801.66 199.02,797.70 201.78,797.70 201.85,801.66 200.80,804.90" fill="#111"/>
<rect x="183.4" y="725.6" width="34.0" height="11.8" fill="#fff" stroke="#1e1e1e" stroke-width="0.9" />
<text x="200.4" y="735.1" font-size="10" text-anchor="middle" fill="#262626" font-weight="normal" >10.93</text>
<line x1="251.4" y1="698.4" x2="251.4" y2="817.6" stroke="#1e1e1e" stroke-width="0.9" />
<polygon points="251.00,698.90 249.95,702.14 250.02,706.10 252.78,706.10 252.85,702.14 251.80,698.90" fill="#111"/>
<polygon points="251.00,817.10 249.95,813.86 250.02,809.90 252.78,809.90 252.85,813.86 251.80,817.10" fill="#111"/>
<rect x="237.0" y="751.6" width="28.4" height="11.4" fill="#fff" stroke="#1e1e1e" stroke-width="0.9" />
<text x="251.2" y="760.9" font-size="10" text-anchor="middle" fill="#262626" font-weight="normal" >9.60</text>
<text x="278.0" y="777.0" font-size="9.5" text-anchor="start" fill="#262626" font-weight="normal" textLength="12.4" lengthAdjust="spacingAndGlyphs" >9X</text>
<rect x="293.0" y="767.6" width="19.6" height="11.4" fill="#fff" stroke="#1e1e1e" stroke-width="0.9" />
<text x="302.8" y="776.9" font-size="10" text-anchor="middle" fill="#262626" font-weight="normal" >0.8</text>
<polyline points="312.6,773.2 315.4,773.2 315.4,795.4" fill="none" stroke="#1e1e1e" stroke-width="0.9" />
<polygon points="315.00,795.00 313.95,791.76 314.02,787.80 316.78,787.80 316.85,791.76 315.80,795.00" fill="#111"/>
<line x1="315.4" y1="805.4" x2="315.4" y2="821.0" stroke="#1e1e1e" stroke-width="0.9" />
<polygon points="315.00,805.80 313.95,809.04 314.02,813.00 316.78,813.00 316.85,809.04 315.80,805.80" fill="#111"/>
<line x1="692.4" y1="669.6" x2="692.4" y2="800.7" stroke="#1e1e1e" stroke-width="0.9" />
<polygon points="692.00,670.10 690.95,673.34 691.02,677.30 693.78,677.30 693.85,673.34 692.80,670.10" fill="#111"/>
<polygon points="692.00,800.20 690.95,796.96 691.02,793.00 693.78,793.00 693.85,796.96 692.80,800.20" fill="#111"/>
<rect x="675.4" y="725.6" width="34.2" height="11.8" fill="#fff" stroke="#1e1e1e" stroke-width="0.9" />
<text x="692.5" y="735.1" font-size="10" text-anchor="middle" fill="#262626" font-weight="normal" >10.53</text>
<line x1="740.4" y1="669.6" x2="740.4" y2="817.6" stroke="#1e1e1e" stroke-width="0.9" />
<polygon points="740.00,670.10 738.95,673.34 739.02,677.30 741.78,677.30 741.85,673.34 740.80,670.10" fill="#111"/>
<polygon points="740.00,817.10 738.95,813.86 739.02,809.90 741.78,809.90 741.85,813.86 740.80,817.10" fill="#111"/>
<rect x="722.6" y="737.0" width="34.0" height="11.6" fill="#fff" stroke="#1e1e1e" stroke-width="0.9" />
<text x="739.6" y="746.4" font-size="10" text-anchor="middle" fill="#262626" font-weight="normal" >11.93</text>
<text x="619.0" y="756.5" font-size="9.5" text-anchor="start" fill="#262626" font-weight="normal" textLength="12.6" lengthAdjust="spacingAndGlyphs" >9X</text>
<rect x="634.4" y="748.0" width="20.0" height="10.4" fill="#fff" stroke="#1e1e1e" stroke-width="0.9" />
<text x="644.4" y="756.8" font-size="10" text-anchor="middle" fill="#262626" font-weight="normal" >0.8</text>
<polyline points="654.4,753.2 656.6,753.2 656.6,791.1" fill="none" stroke="#1e1e1e" stroke-width="0.9" />
<polygon points="656.20,790.60 655.15,787.36 655.22,783.40 657.98,783.40 658.05,787.36 657.00,790.60" fill="#111"/>
<line x1="656.6" y1="800.7" x2="656.6" y2="817.6" stroke="#1e1e1e" stroke-width="0.9" />
<polygon points="656.20,801.20 655.15,804.44 655.22,808.40 657.98,808.40 658.05,804.44 657.00,801.20" fill="#111"/>
<line x1="602.4" y1="781.0" x2="602.4" y2="796.9" stroke="#1e1e1e" stroke-width="0.9" />
<polygon points="602.00,796.40 600.95,793.16 601.02,789.20 603.78,789.20 603.85,793.16 602.80,796.40" fill="#111"/>
<line x1="602.4" y1="803.1" x2="602.4" y2="848.0" stroke="#1e1e1e" stroke-width="0.9" />
<polygon points="602.00,803.60 600.95,806.84 601.02,810.80 603.78,810.80 603.85,806.84 602.80,803.60" fill="#111"/>
<text x="605.6" y="853.0" font-size="9" text-anchor="start" fill="#262626" font-weight="normal" textLength="64.4" lengthAdjust="spacingAndGlyphs" >20X 0.50&#177;0.03</text>
<rect x="603.6" y="855.0" width="73.4" height="14.4" fill="#fff" stroke="#1e1e1e" stroke-width="0.9" />
<line x1="619.4" y1="855.0" x2="619.4" y2="869.4" stroke="#1e1e1e" stroke-width="0.9" />
<line x1="646.6" y1="855.0" x2="646.6" y2="869.4" stroke="#1e1e1e" stroke-width="0.9" />
<line x1="661.4" y1="855.0" x2="661.4" y2="869.4" stroke="#1e1e1e" stroke-width="0.9" />
<circle cx="611.5" cy="862.2" r="3.4" fill="none" stroke="#1e1e1e" stroke-width="0.9"/>
<line x1="606.6" y1="862.2" x2="616.4" y2="862.2" stroke="#1e1e1e" stroke-width="0.9" />
<line x1="611.5" y1="857.3" x2="611.5" y2="867.1" stroke="#1e1e1e" stroke-width="0.9" />
<text x="633.0" y="865.6" font-size="9.5" text-anchor="middle" fill="#262626">0.06</text>
<text x="654.0" y="865.6" font-size="9.5" text-anchor="middle" fill="#262626">C</text>
<text x="669.2" y="865.6" font-size="9.5" text-anchor="middle" fill="#262626">D</text>
<text x="330.0" y="911.8" font-size="9.5" text-anchor="start" fill="#262626" font-weight="normal" textLength="12.4" lengthAdjust="spacingAndGlyphs" >2X</text>
<text x="346.5" y="911.8" font-size="9.5" text-anchor="start" fill="#262626" font-weight="normal" textLength="53.1" lengthAdjust="spacingAndGlyphs" >&#216;1.55&#177;0.05</text>
<polyline points="401.4,908.8 404.0,908.8 452.6,829.4" fill="none" stroke="#1e1e1e" stroke-width="0.9" />
<polygon points="453.8,827.6 447.6,834.4 451.0,836.4" fill="#111"/>
<rect x="313.2" y="914.2" width="90.2" height="13.8" fill="#fff" stroke="#1e1e1e" stroke-width="0.9" />
<line x1="329.4" y1="914.2" x2="329.4" y2="928.0" stroke="#1e1e1e" stroke-width="0.9" />
<line x1="374.4" y1="914.2" x2="374.4" y2="928.0" stroke="#1e1e1e" stroke-width="0.9" />
<line x1="388.4" y1="914.2" x2="388.4" y2="928.0" stroke="#1e1e1e" stroke-width="0.9" />
<circle cx="321.3" cy="921.1" r="3.4" fill="none" stroke="#1e1e1e" stroke-width="0.9"/>
<line x1="316.4" y1="921.1" x2="326.2" y2="921.1" stroke="#1e1e1e" stroke-width="0.9" />
<line x1="321.3" y1="916.2" x2="321.3" y2="926.0" stroke="#1e1e1e" stroke-width="0.9" />
<text x="381.4" y="924.5" font-size="9.5" text-anchor="middle" fill="#262626">C</text>
<text x="395.9" y="924.5" font-size="9.5" text-anchor="middle" fill="#262626">D</text>
<text x="332.0" y="924.5" font-size="8.5" text-anchor="start" fill="#262626" font-weight="normal" >&#216;</text>
<text x="341.0" y="924.6" font-size="9.5" text-anchor="start" fill="#262626" font-weight="normal" textLength="13.5" lengthAdjust="spacingAndGlyphs" >0.1</text>
<circle cx="364.4" cy="921.1" r="4.6" fill="none" stroke="#1e1e1e" stroke-width="0.9" />
<text x="364.4" y="924.5" font-size="8" text-anchor="middle" fill="#262626" font-weight="normal" >L</text>
<line x1="483.0" y1="908.6" x2="498.8" y2="908.6" stroke="#1e1e1e" stroke-width="0.9" />
<polygon points="498.80,908.20 495.29,907.15 491.00,907.22 491.00,909.98 495.29,910.05 498.80,909.00" fill="#111"/>
<line x1="523.6" y1="908.6" x2="545.0" y2="908.6" stroke="#1e1e1e" stroke-width="0.9" />
<polygon points="523.60,908.20 527.11,907.15 531.40,907.22 531.40,909.98 527.11,910.05 523.60,909.00" fill="#111"/>
<text x="546.6" y="912.4" font-size="9.5" text-anchor="start" fill="#262626" font-weight="normal" textLength="52.4" lengthAdjust="spacingAndGlyphs" >2&#177;0.05 TYP</text>
<rect x="545.0" y="914.6" width="85.4" height="14.0" fill="#fff" stroke="#1e1e1e" stroke-width="0.9" />
<line x1="561.6" y1="914.6" x2="561.6" y2="928.6" stroke="#1e1e1e" stroke-width="0.9" />
<line x1="600.6" y1="914.6" x2="600.6" y2="928.6" stroke="#1e1e1e" stroke-width="0.9" />
<line x1="615.6" y1="914.6" x2="615.6" y2="928.6" stroke="#1e1e1e" stroke-width="0.9" />
<circle cx="553.3" cy="921.6" r="3.4" fill="none" stroke="#1e1e1e" stroke-width="0.9"/>
<line x1="548.4" y1="921.6" x2="558.2" y2="921.6" stroke="#1e1e1e" stroke-width="0.9" />
<line x1="553.3" y1="916.7" x2="553.3" y2="926.5" stroke="#1e1e1e" stroke-width="0.9" />
<text x="608.1" y="925.0" font-size="9.5" text-anchor="middle" fill="#262626">C</text>
<text x="623.0" y="925.0" font-size="9.5" text-anchor="middle" fill="#262626">D</text>
<text x="563.6" y="925.0" font-size="9.5" text-anchor="start" fill="#262626" font-weight="normal" textLength="20.0" lengthAdjust="spacingAndGlyphs" >0.06</text>
<circle cx="590.2" cy="921.6" r="4.6" fill="none" stroke="#1e1e1e" stroke-width="0.9" />
<text x="590.2" y="925.0" font-size="8" text-anchor="middle" fill="#262626" font-weight="normal" >L</text>
<text x="630.0" y="943.7" font-size="7.6" text-anchor="start" fill="#333" font-weight="bold" textLength="128.7" lengthAdjust="spacingAndGlyphs" >ALL DIMENSIONS ARE IN MILLIMETERS</text>
</svg></body></html>
